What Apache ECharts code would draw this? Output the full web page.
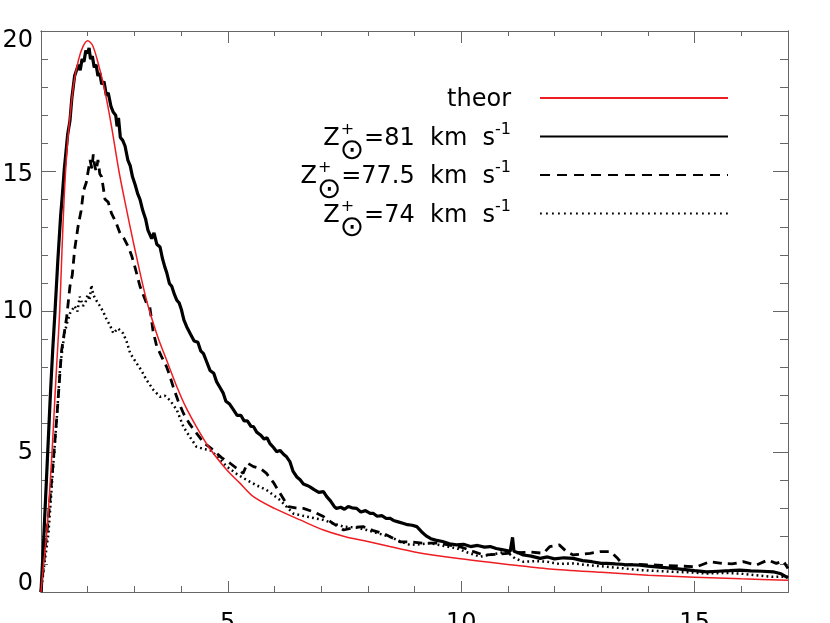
<!DOCTYPE html>
<html>
<head>
<meta charset="utf-8">
<script src="https://cdn.jsdelivr.net/npm/echarts@6/dist/echarts.min.js"></script>
<style>
html, body { margin: 0; padding: 0; background: #fff; }
#main { width: 830px; height: 623px; }
</style>
</head>
<body>
<div id="main"></div>
<script>
// values
var theorX = [1.0, 1.05, 1.1, 1.15, 1.2, 1.25, 1.3, 1.35, 1.4, 1.45, 1.5, 1.55, 1.6, 1.7, 1.8, 1.9, 2.0, 2.1, 2.2, 2.35, 2.5, 2.67, 2.8, 3.0, 3.26, 3.5, 3.69, 3.91, 4.1, 4.33, 4.6, 4.98, 5.25, 5.55, 6.0, 6.55, 7.05, 7.5, 8.0, 8.47, 9.0, 9.9, 11.0, 11.9, 13.0, 14.0, 15.0, 16.0, 17.0];
var theorY = [0, 0.9, 1.7, 2.7, 4.0, 5.4, 7.0, 8.5, 10.0, 12.2, 14.2, 15.6, 16.6, 18.1, 18.95, 19.45, 19.65, 19.5, 19.0, 18.0, 16.7, 15.0, 13.9, 12.3, 10.4, 9.1, 8.27, 7.32, 6.6, 5.89, 5.15, 4.35, 3.9, 3.4, 2.98, 2.57, 2.21, 1.98, 1.8, 1.62, 1.43, 1.2, 0.98, 0.82, 0.7, 0.6, 0.53, 0.47, 0.42];

var z81X = [1.0, 1.05, 1.1, 1.15, 1.2, 1.25, 1.3, 1.36, 1.42, 1.46, 1.5, 1.53, 1.57, 1.62, 1.66, 1.69, 1.72, 1.76, 1.8, 1.84, 1.88, 1.92, 1.96, 2.0, 2.03, 2.06, 2.1, 2.14, 2.18, 2.22, 2.26, 2.3, 2.35, 2.4, 2.44, 2.5, 2.55, 2.6, 2.63, 2.66, 2.7, 2.75, 2.8, 2.86, 2.91, 2.96, 3.02, 3.07, 3.12, 3.18, 3.24, 3.29, 3.33, 3.37, 3.42, 3.48, 3.55, 3.6, 3.65, 3.69, 3.75, 3.8, 3.86, 3.91, 3.96, 4.01, 4.06, 4.12, 4.2, 4.28, 4.36, 4.42, 4.48, 4.55, 4.62, 4.7, 4.76, 4.83, 4.9, 4.96, 5.04, 5.12, 5.2, 5.28, 5.35, 5.42, 5.5, 5.55, 5.62, 5.7, 5.78, 5.84, 5.9, 5.98, 6.05, 6.12, 6.2, 6.26, 6.33, 6.4, 6.48, 6.55, 6.62, 6.7, 6.76, 6.85, 6.95, 7.05, 7.12, 7.2, 7.28, 7.33, 7.42, 7.5, 7.58, 7.66, 7.76, 7.85, 7.95, 8.05, 8.12, 8.2, 8.3, 8.4, 8.47, 8.55, 8.65, 8.75, 8.85, 8.95, 9.05, 9.15, 9.25, 9.35, 9.45, 9.6, 9.75, 9.9, 10.05, 10.2, 10.35, 10.5, 10.62, 10.75, 10.9, 11.05, 11.1, 11.13, 11.25, 11.33, 11.5, 11.69, 11.85, 12.0, 12.2, 12.4, 12.6, 12.8, 13.0, 13.12, 13.3, 13.5, 13.83, 14.0, 14.3, 14.54, 14.8, 15.0, 15.26, 15.5, 15.75, 15.97, 16.2, 16.45, 16.68, 16.85, 17.0];
var z81Y = [0, 1.6, 3.4, 5.2, 7.0, 8.6, 10.0, 11.8, 13.4, 14.2, 15.1, 15.6, 16.3, 16.8, 17.6, 18.0, 18.4, 18.4, 18.8, 18.6, 19.0, 18.9, 19.3, 19.2, 19.4, 19.0, 19.1, 18.7, 18.8, 18.4, 18.5, 18.1, 18.2, 17.7, 17.8, 17.3, 17.1, 17.0, 16.6, 16.9, 16.2, 16.1, 15.9, 15.4, 15.2, 14.8, 14.5, 14.2, 14.0, 13.6, 13.3, 12.9, 12.9, 12.6, 12.8, 12.4, 12.3, 11.9, 11.6, 11.4, 11.0, 10.9, 10.6, 10.4, 10.3, 10.05, 9.7, 9.46, 9.2, 8.95, 8.9, 8.6, 8.5, 8.2, 7.9, 7.8, 7.5, 7.3, 7.1, 6.8, 6.7, 6.5, 6.3, 6.3, 6.1, 6.1, 5.9, 5.9, 5.7, 5.6, 5.45, 5.5, 5.3, 5.15, 5.0, 5.05, 4.9, 4.82, 4.65, 4.3, 4.1, 4.0, 3.85, 3.8, 3.75, 3.65, 3.55, 3.58, 3.4, 3.25, 3.05, 2.98, 3.02, 2.95, 3.05, 3.0, 2.98, 2.85, 2.9, 2.8, 2.8, 2.7, 2.72, 2.62, 2.63, 2.55, 2.5, 2.45, 2.4, 2.38, 2.33, 2.15, 2.0, 1.9, 1.85, 1.8, 1.72, 1.68, 1.7, 1.62, 1.66, 1.6, 1.62, 1.55, 1.5, 1.45, 1.95, 1.45, 1.38, 1.32, 1.28, 1.2, 1.25, 1.18, 1.22, 1.2, 1.12, 1.08, 1.02, 1.02, 1.0, 0.98, 0.96, 0.92, 0.88, 0.84, 0.8, 0.76, 0.72, 0.74, 0.76, 0.78, 0.75, 0.74, 0.72, 0.65, 0.5];

var z775X = [1.0, 1.08, 1.15, 1.25, 1.34, 1.44, 1.55, 1.62, 1.67, 1.72, 1.8, 1.86, 1.91, 1.97, 2.05, 2.09, 2.12, 2.15, 2.18, 2.22, 2.26, 2.3, 2.37, 2.44, 2.51, 2.6, 2.69, 2.78, 2.87, 2.94, 3.01, 3.12, 3.19, 3.26, 3.33, 3.4, 3.48, 3.58, 3.69, 3.76, 3.83, 3.94, 4.05, 4.18, 4.33, 4.5, 4.69, 4.86, 5.05, 5.2, 5.33, 5.42, 5.55, 5.7, 5.83, 5.98, 6.12, 6.3, 6.45, 6.62, 6.85, 7.05, 7.25, 7.48, 7.7, 7.9, 8.1, 8.33, 8.5, 8.69, 8.95, 9.19, 9.54, 9.8, 10.0, 10.25, 10.48, 10.8, 11.19, 11.5, 11.76, 11.9, 12.1, 12.25, 12.4, 12.6, 12.76, 12.97, 13.2, 13.35, 13.47, 13.8, 14.2, 14.6, 15.04, 15.33, 15.6, 15.8, 16.04, 16.32, 16.57, 16.75, 16.9, 17.0];
var z775Y = [0, 1.4, 2.5, 4.4, 6.25, 8.6, 9.8, 10.9, 11.3, 12.2, 13.1, 13.6, 14.3, 14.6, 15.4, 15.1, 15.6, 15.2, 15.0, 15.4, 14.9, 14.8, 14.0, 13.9, 13.5, 13.2, 12.8, 12.6, 12.3, 12.0, 11.6, 10.9, 10.6, 10.3, 10.17, 9.3, 8.75, 8.4, 8.03, 7.7, 7.32, 6.8, 6.37, 6.0, 5.66, 5.3, 5.06, 4.8, 4.59, 4.4, 4.23, 4.6, 4.47, 4.4, 4.23, 3.9, 3.52, 3.04, 3.0, 2.98, 2.85, 2.69, 2.45, 2.21, 2.3, 2.33, 2.2, 2.09, 1.95, 1.79, 1.78, 1.74, 1.74, 1.65, 1.6, 1.45, 1.32, 1.35, 1.4, 1.42, 1.38, 1.62, 1.68, 1.45, 1.32, 1.35, 1.38, 1.44, 1.44, 1.2, 0.96, 0.98, 0.96, 0.93, 0.9, 1.08, 1.02, 1.0, 1.08, 0.96, 1.14, 1.02, 1.1, 0.84];

var z74X = [1.0, 1.08, 1.16, 1.26, 1.34, 1.41, 1.5, 1.56, 1.62, 1.72, 1.78, 1.83, 1.9, 1.95, 2.0, 2.04, 2.08, 2.12, 2.15, 2.2, 2.26, 2.33, 2.41, 2.48, 2.55, 2.65, 2.76, 2.84, 2.91, 3.05, 3.15, 3.26, 3.41, 3.55, 3.65, 3.76, 3.91, 4.05, 4.2, 4.33, 4.48, 4.62, 4.8, 4.98, 5.2, 5.41, 5.62, 5.83, 6.12, 6.4, 6.55, 6.8, 7.05, 7.25, 7.48, 7.75, 7.98, 8.2, 8.47, 8.7, 8.9, 9.1, 9.33, 9.6, 9.9, 10.15, 10.4, 10.7, 10.97, 11.15, 11.33, 11.6, 11.83, 12.1, 12.4, 12.75, 13.12, 13.5, 13.83, 14.2, 14.54, 14.9, 15.26, 15.6, 15.97, 16.3, 16.68, 17.0];
var z74Y = [0, 1.1, 2.09, 4.47, 6.25, 8.03, 9.2, 9.6, 9.93, 10.2, 10.0, 10.53, 10.2, 10.3, 10.6, 10.4, 10.94, 10.6, 10.5, 10.35, 10.2, 10.0, 9.7, 9.5, 9.22, 9.4, 9.22, 8.9, 8.51, 8.15, 7.9, 7.56, 7.2, 6.96, 7.0, 6.84, 6.49, 5.89, 5.5, 5.18, 5.1, 5.06, 4.8, 4.47, 4.2, 3.99, 3.8, 3.64, 3.28, 2.8, 2.74, 2.65, 2.57, 2.45, 2.33, 2.3, 2.21, 2.1, 1.97, 1.8, 1.68, 1.7, 1.74, 1.65, 1.56, 1.4, 1.26, 1.35, 1.44, 1.2, 1.08, 1.1, 1.08, 1.0, 1.02, 0.95, 0.9, 0.84, 0.78, 0.75, 0.72, 0.7, 0.66, 0.68, 0.66, 0.6, 0.54, 0.54];

var xLabelTicks = [5, 10, 15];
var speeds = ['81', '77.5', '74'];

var FONT = '"DejaVu Sans"';
var RED = '#ee1d23';

function pairs(xs, ys) {
  return xs.map(function (x, i) { return [x, ys[i]]; });
}

// legend text is laid out piece by piece (Z with stacked + and sun symbol)
var ctx = document.createElement('canvas').getContext('2d');
function textW(s, size) {
  ctx.font = size + 'px ' + FONT;
  return ctx.measureText(s).width;
}
function txt(x, y, s, size, align) {
  return {
    type: 'text', x: x, y: y, silent: true,
    style: { text: s, fontSize: size, fontFamily: FONT, fill: '#000',
      align: align || 'left', verticalAlign: 'middle',
      textAlign: align || 'left', textVerticalAlign: 'middle' }
  };
}
function seg(y, color, width, dash) {
  return {
    type: 'line', silent: true,
    shape: { x1: 540, y1: y, x2: 728, y2: y },
    style: { stroke: color, lineWidth: width, lineDash: dash || null }
  };
}

var rowY = [98, 136.5, 175, 213.5];
var legendRight = 511;
var gfx = [];
gfx.push(txt(legendRight, rowY[0] + 2, 'theor', 24, 'right'));
gfx.push(seg(rowY[0], RED, 2));
speeds.forEach(function (v, i) {
  var y = rowY[i + 1];
  var rest = '=' + v + '  km  s';
  var wZ = textW('Z', 24), wO = textW('\u2299', 29), wR = textW(rest, 24), wS = textW('-1', 16);
  var x0 = legendRight - (wZ + wO + wR + wS);
  gfx.push(txt(x0, y + 2, 'Z', 24));
  gfx.push(txt(x0 + wZ + 1, y - 7, '+', 16));
  gfx.push(txt(x0 + wZ, y + 15, '\u2299', 29));
  gfx.push(txt(x0 + wZ + wO, y + 2, rest, 24));
  gfx.push(txt(x0 + wZ + wO + wR, y - 7, '-1', 16));
});
gfx.push(seg(rowY[1], '#000', 2));
gfx.push(seg(rowY[2], '#000', 2, [10, 7]));
gfx.push(seg(rowY[3], '#000', 1.8, [1.8, 4.2]));

var axisCol = '#666';
function xAx(pos, len, opts) {
  var a = {
    type: 'value', min: 1, max: 17, position: pos,
    axisLine: { show: true, onZero: false, lineStyle: { color: axisCol, width: 1 } },
    axisTick: { inside: true, length: len, lineStyle: { color: axisCol, width: 1 } },
    axisLabel: { show: false },
    splitLine: { show: false }
  };
  return Object.assign(a, opts || {});
}
function yAx(pos, len, interval, opts) {
  var a = {
    type: 'value', min: 0, max: 20, interval: interval, position: pos,
    axisLine: { show: true, onZero: false, lineStyle: { color: axisCol, width: 1 } },
    axisTick: { inside: true, length: len, lineStyle: { color: axisCol, width: 1 } },
    axisLabel: { show: false },
    splitLine: { show: false }
  };
  return Object.assign(a, opts || {});
}

var labStyle = { fontSize: 24, fontFamily: FONT, color: '#000' };

var chart = echarts.init(document.getElementById('main'), null, { renderer: 'canvas' });
chart.setOption({
  animation: false,
  backgroundColor: '#fff',
  grid: { left: 41, right: 42, top: 31, bottom: 31, containLabel: false, outerBoundsMode: 'none' },
  xAxis: [
    xAx('bottom', 11, {
      axisTick: { inside: true, length: 11, customValues: xLabelTicks, lineStyle: { color: axisCol } },
      axisLabel: { show: true, customValues: xLabelTicks, margin: 20, fontSize: 24, fontFamily: FONT, color: '#000' }
    }),
    xAx('bottom', 6, { interval: 1 }),
    xAx('top', 12, { axisTick: { inside: true, length: 12, customValues: xLabelTicks, lineStyle: { color: axisCol } } }),
    xAx('top', 5, { interval: 1 })
  ],
  yAxis: [
    yAx('left', 15, 5, {
      axisLabel: {
        show: true, margin: 8, fontSize: 24, fontFamily: FONT, color: '#000',
        formatter: function (v) { return '{y' + v + '|' + v + '}'; },
        rich: {
          y0: Object.assign({ padding: [0, 0, 16, 0] }, labStyle),
          y5: Object.assign({ padding: [2, 0, 0, 0] }, labStyle),
          y10: Object.assign({}, labStyle),
          y15: Object.assign({ padding: [7, 0, 0, 0] }, labStyle),
          y20: Object.assign({ padding: [20, 0, 0, 0] }, labStyle)
        }
      }
    }),
    yAx('left', 7, 1),
    yAx('right', 15, 5),
    yAx('right', 8, 1)
  ],
  graphic: gfx,
  series: [
    {
      name: 'Z=74', type: 'line', data: pairs(z74X, z74Y),
      symbol: 'none', showSymbol: false, silent: true,
      lineStyle: { color: '#000', width: 2.5, type: [1.8, 3.2], cap: 'butt' }
    },
    {
      name: 'Z=77.5', type: 'line', data: pairs(z775X, z775Y),
      symbol: 'none', showSymbol: false, silent: true,
      lineStyle: { color: '#000', width: 2.8, type: [9, 6] }
    },
    {
      name: 'Z=81', type: 'line', data: pairs(z81X, z81Y),
      symbol: 'none', showSymbol: false, silent: true,
      lineStyle: { color: '#000', width: 3.2 }
    },
    {
      name: 'theor', type: 'line', data: pairs(theorX, theorY),
      symbol: 'none', showSymbol: false, silent: true, smooth: 0.3,
      lineStyle: { color: RED, width: 1.5 }, z: 5
    }
  ]
});
</script>
</body>
</html>
